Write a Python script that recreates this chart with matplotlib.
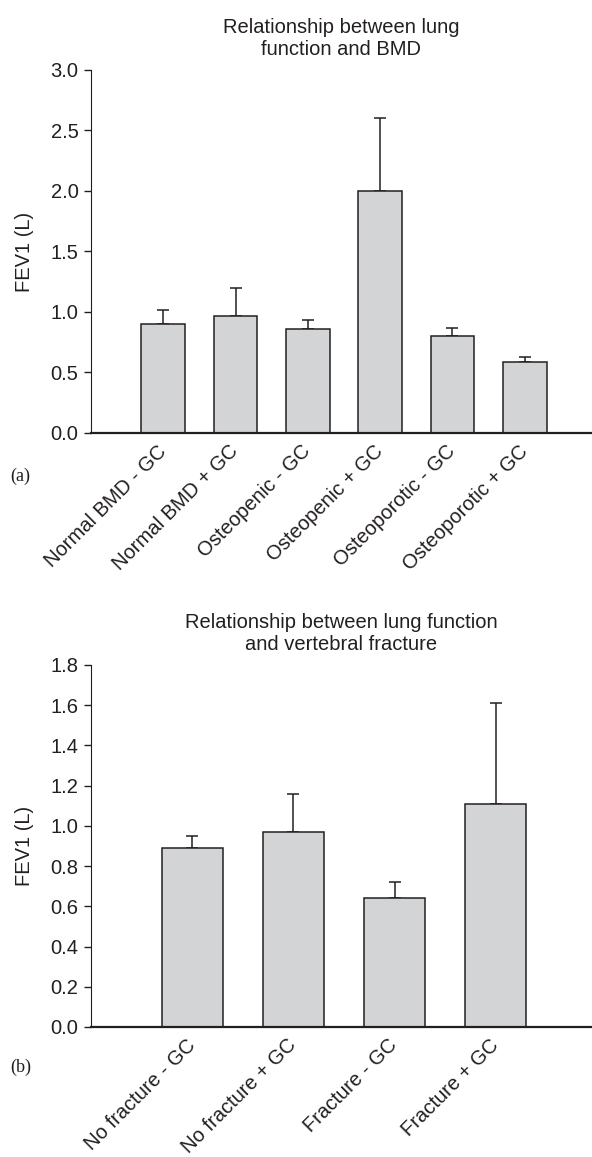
import matplotlib
matplotlib.use("Agg")
import matplotlib.pyplot as plt

# -----------------------------
# Data
# -----------------------------
bmd_groups = ["Normal BMD - GC", "Normal BMD + GC", "Osteopenic - GC",
              "Osteopenic + GC", "Osteoporotic - GC", "Osteoporotic + GC"]
bmd_fev1 = [0.90, 0.97, 0.86, 2.00, 0.80, 0.59]
bmd_err = [0.12, 0.23, 0.07, 0.60, 0.07, 0.04]

frac_groups = ["No fracture - GC", "No fracture + GC", "Fracture - GC", "Fracture + GC"]
frac_fev1 = [0.89, 0.97, 0.64, 1.11]
frac_err = [0.06, 0.19, 0.08, 0.50]

bmd_yticks = [0.0, 0.5, 1.0, 1.5, 2.0, 2.5, 3.0]
frac_yticks = [0.0, 0.2, 0.4, 0.6, 0.8, 1.0, 1.2, 1.4, 1.6, 1.8]

plt.rcParams["font.family"] = ["Liberation Sans", "DejaVu Sans"]
ink = "#231f20"
fill = "#d3d4d6"

fig = plt.figure(figsize=(5.92, 11.57), dpi=100)


def draw_panel(ax, groups, vals, errs, yticks, xmax, width, title, tag, tag_y):
    x = list(range(1, len(groups) + 1))
    ax.bar(x, vals, width=width, color=fill, edgecolor=ink, linewidth=1.1, zorder=2)
    ax.errorbar(x, vals, yerr=[[0] * len(errs), errs], fmt="none", ecolor=ink,
                elinewidth=1.1, capsize=4.5, capthick=1.1, zorder=1)
    ax.set_xlim(0, xmax)
    ax.set_ylim(0, yticks[-1])
    ax.set_yticks(yticks)
    ax.set_yticklabels(["%.1f" % t for t in yticks], fontsize=14.5, color=ink)
    ax.set_xticks(x)
    ax.set_xticklabels(groups, rotation=45, ha="right", va="center",
                       rotation_mode="anchor", fontsize=14.5, color=ink)
    ax.tick_params(axis="x", length=0, pad=11)
    ax.tick_params(axis="y", length=5, width=1, color=ink, pad=4)
    for s in ["top", "right"]:
        ax.spines[s].set_visible(False)
    ax.spines["left"].set_color(ink)
    ax.spines["bottom"].set_color(ink)
    ax.spines["bottom"].set_linewidth(1.6)
    ax.set_ylabel("FEV1 (L)", fontsize=14.5, color=ink, labelpad=12)
    ax.set_title(title, fontsize=14.5, color=ink, pad=11, linespacing=1.15)
    fig.text(0.018, tag_y, tag, fontsize=13, family="Liberation Serif", color=ink,
             va="center")


# top panel: y axis from 433 px (0.0) to 70 px (3.0)
ax1 = fig.add_axes([0.1537, 0.6258, 0.8463, 0.3137])
draw_panel(ax1, bmd_groups, bmd_fev1, bmd_err, bmd_yticks, 6.93, 0.605,
           "Relationship between lung\nfunction and BMD", "(a)", 1 - 476 / 1157)

# bottom panel: y axis from 1027 px (0.0) to 665 px (1.8)
ax2 = fig.add_axes([0.1537, 0.1124, 0.8463, 0.3129])
draw_panel(ax2, frac_groups, frac_fev1, frac_err, frac_yticks, 4.95, 0.6,
           "Relationship between lung function\nand vertebral fracture", "(b)", 1 - 1067 / 1157)

fig.savefig("out.png", dpi=100)
